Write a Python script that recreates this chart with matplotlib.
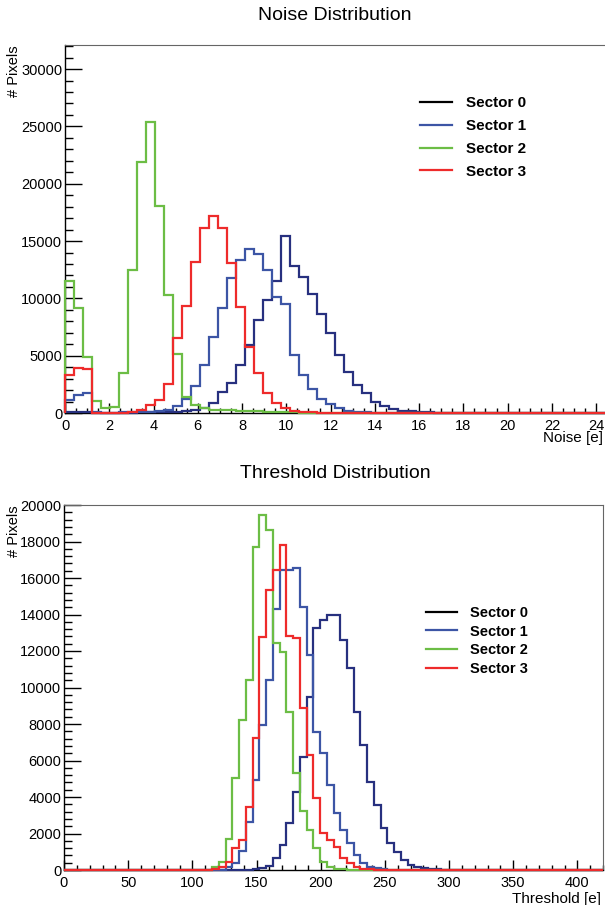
"""Noise and threshold distributions per sector (ROOT-style histograms)."""
import matplotlib

matplotlib.use("Agg")
import matplotlib.pyplot as plt
import numpy as np
from matplotlib.lines import Line2D
from matplotlib.ticker import MultipleLocator

plt.rcParams["font.family"] = ["Liberation Sans", "DejaVu Sans"]

SECTORS = ["Sector 0", "Sector 1", "Sector 2", "Sector 3"]
HIST_COLORS = ["#27307f", "#3c55a5", "#6cbd45", "#ee2b2b"]
LEGEND_COLORS = ["#000000", "#3c55a5", "#6cbd45", "#ee2b2b"]

# noise histograms: 60 bins over 0 - 24.4 e
NOISE_RANGE = (0.0, 24.4)
noise_s0 = [100, 120, 120, 40, 30, 30, 30, 40, 50, 60,
            80, 100, 130, 180, 260, 410, 900, 1800, 2650, 4190,
            5900, 8150, 9900, 11500, 15440, 12820, 11890, 10350, 8610, 6950,
            5060, 3600, 2440, 1720, 990, 610, 320, 200, 150, 100,
            60, 30, 0, 0, 0, 0, 0, 0, 0, 0,
            0, 0, 0, 0, 0, 0, 0, 0, 0, 0]
noise_s1 = [1130, 1570, 1780, 60, 40, 40, 50, 60, 80, 120,
            150, 260, 600, 1220, 2330, 4160, 6600, 9130, 11780, 13340,
            14270, 13840, 12480, 10150, 9490, 5060, 3320, 2070, 1190, 785,
            410, 200, 100, 60, 30, 0, 0, 0, 0, 0,
            0, 0, 0, 0, 0, 0, 0, 0, 0, 0,
            0, 0, 0, 0, 0, 0, 0, 0, 0, 0]
noise_s2 = [11540, 9130, 4860, 1075, 410, 550, 3520, 12480, 21930, 25420,
            18090, 10300, 5170, 1380, 700, 440, 300, 250, 220, 200,
            180, 150, 130, 110, 90, 60, 40, 20, 0, 0,
            0, 0, 0, 0, 0, 0, 0, 0, 0, 0,
            0, 0, 0, 0, 0, 0, 0, 0, 0, 0,
            0, 0, 0, 0, 0, 0, 0, 0, 0, 0]
noise_s3 = [3310, 3950, 3810, 30, 0, 0, 10, 60, 260, 700,
            1150, 2500, 6570, 9350, 13150, 16110, 17200, 16110, 13050, 9280,
            5790, 3460, 1770, 850, 410, 200, 100, 50, 0, 0,
            0, 0, 0, 0, 0, 0, 0, 0, 0, 0,
            0, 0, 0, 0, 0, 0, 0, 0, 0, 0,
            0, 0, 0, 0, 0, 0, 0, 0, 0, 0]

# threshold histograms: 80 bins over 0 - 420 e
THR_RANGE = (0.0, 420.0)
thr_s0 = [0, 0, 0, 0, 0, 0, 0, 0, 0, 0,
          0, 0, 0, 0, 0, 0, 0, 0, 0, 0,
          0, 0, 0, 0, 0, 0, 0, 0, 30, 100,
          220, 640, 1370, 2590, 4290, 6210, 9500, 13240, 13690, 13970,
          13970, 12600, 11050, 8680, 6850, 4840, 3560, 2280, 1460, 1000,
          550, 300, 180, 100, 60, 30, 0, 0, 0, 0,
          0, 0, 0, 0, 0, 0, 0, 0, 0, 0,
          0, 0, 0, 0, 0, 0, 0, 0, 0, 0]
thr_s1 = [0, 0, 0, 0, 0, 0, 0, 0, 0, 0,
          0, 0, 0, 0, 0, 0, 0, 0, 0, 0,
          0, 0, 0, 0, 183, 365, 1060, 2650, 4930, 7950,
          10410, 14280, 16440, 16440, 16530, 14390, 11780, 7580, 6390, 4660,
          3100, 2190, 1460, 820, 365, 183, 100, 50, 0, 0,
          0, 0, 0, 0, 0, 0, 0, 0, 0, 0,
          0, 0, 0, 0, 0, 0, 0, 0, 0, 0,
          0, 0, 0, 0, 0, 0, 0, 0, 0, 0]
thr_s2 = [0, 0, 0, 0, 0, 0, 0, 0, 0, 0,
          0, 0, 0, 0, 0, 0, 0, 0, 0, 0,
          0, 0, 183, 457, 1680, 5020, 8220, 10410, 17720, 19450,
          18630, 12420, 11970, 8680, 5340, 3250, 2190, 1190, 457, 183,
          80, 30, 0, 0, 0, 0, 0, 0, 0, 0,
          0, 0, 0, 0, 0, 0, 0, 0, 0, 0,
          0, 0, 0, 0, 0, 0, 0, 0, 0, 0,
          0, 0, 0, 0, 0, 0, 0, 0, 0, 0]
thr_s3 = [0, 0, 0, 0, 0, 0, 0, 0, 0, 0,
          0, 0, 0, 0, 0, 0, 0, 0, 0, 0,
          0, 0, 50, 183, 457, 1190, 1640, 3470, 7210, 12790,
          15340, 16440, 17810, 12800, 12700, 8860, 6300, 3930, 2010, 1640,
          1280, 640, 365, 183, 80, 30, 0, 0, 0, 0,
          0, 0, 0, 0, 0, 0, 0, 0, 0, 0,
          0, 0, 0, 0, 0, 0, 0, 0, 0, 0,
          0, 0, 0, 0, 0, 0, 0, 0, 0, 0]


def style_axes(ax, xmajor, xminor, ymajor, yminor, ylen, xpad):
    ax.xaxis.set_major_locator(MultipleLocator(xmajor))
    ax.xaxis.set_minor_locator(MultipleLocator(xminor))
    ax.yaxis.set_major_locator(MultipleLocator(ymajor))
    ax.yaxis.set_minor_locator(MultipleLocator(yminor))
    ax.tick_params(axis="both", which="both", direction="in",
                   top=False, right=False, labelsize=10.5, width=1)
    ax.tick_params(axis="x", which="major", length=7, pad=xpad)
    ax.tick_params(axis="x", which="minor", length=3.5)
    ax.tick_params(axis="y", which="major", length=ylen, pad=2)
    ax.tick_params(axis="y", which="minor", length=ylen / 2)
    for side in ("top", "right"):
        ax.spines[side].set_color("#666666")
    ax.spines["left"].set_linewidth(1)
    ax.spines["bottom"].set_linewidth(1)


def draw_hists(ax, series, lo, hi):
    edges = np.linspace(lo, hi, len(series[0]) + 1)
    for vals, color in zip(series, HIST_COLORS):
        ax.stairs(vals, edges, color=color, linewidth=1.6, clip_on=False,
                  zorder=3)


def add_legend(ax, anchor, fontsize, spacing):
    handles = [Line2D([], [], color=c, linewidth=1.6) for c in LEGEND_COLORS]
    ax.legend(handles, SECTORS, loc="upper left", bbox_to_anchor=anchor,
              frameon=False, borderpad=0, borderaxespad=0, handlelength=2.1,
              handletextpad=0.9, labelspacing=spacing,
              prop={"weight": "bold", "size": fontsize})


fig = plt.figure(figsize=(6.05, 9.05), dpi=100)

# ---- Noise ----
ax1 = fig.add_axes([65 / 605, 1 - 413 / 905, 540 / 605, 368 / 905])
draw_hists(ax1, [noise_s0, noise_s1, noise_s2, noise_s3], *NOISE_RANGE)
ax1.set_xlim(*NOISE_RANGE)
ax1.set_ylim(0, 32100)
style_axes(ax1, 2, 0.5, 5000, 1000, 12, 4)
ax1.spines["right"].set_visible(False)
ax1.set_xlabel("Noise [e]", loc="right", fontsize=11)
ax1.xaxis.set_label_coords(0.997, -0.05)
ax1.set_ylabel("# Pixels", loc="top", fontsize=10.5)
ax1.yaxis.set_label_coords(-0.081, 1.0)
add_legend(ax1, (0.657, 0.861), 11, 0.58)
fig.text(335 / 605, 1 - 15 / 905, "Noise Distribution", ha="center",
         va="center", fontsize=14)

# ---- Threshold ----
ax2 = fig.add_axes([64 / 605, 1 - 870 / 905, 539 / 605, 365 / 905])
draw_hists(ax2, [thr_s0, thr_s1, thr_s2, thr_s3], *THR_RANGE)
ax2.set_xlim(*THR_RANGE)
ax2.set_ylim(0, 20000)
style_axes(ax2, 50, 10, 2000, 400, 12, 4.5)
ax2.set_xlabel("Threshold [e]", loc="right", fontsize=11)
ax2.xaxis.set_label_coords(0.997, -0.06)
ax2.set_ylabel("# Pixels", loc="top", fontsize=10.5)
ax2.yaxis.set_label_coords(-0.08, 1.0)
add_legend(ax2, (0.672, 0.724), 10.5, 0.33)
fig.text(335 / 605, 1 - 473 / 905, "Threshold Distribution", ha="center",
         va="center", fontsize=14)

fig.savefig("out.png", dpi=100)
plt.close(fig)
